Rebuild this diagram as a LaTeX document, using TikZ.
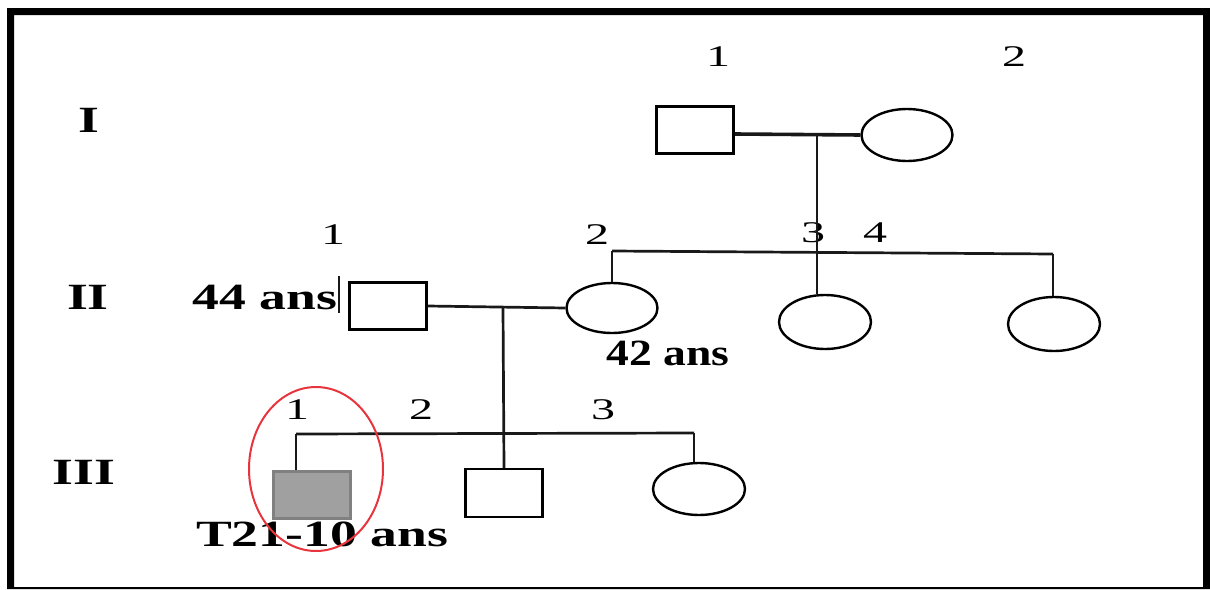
\documentclass[tikz,border=0pt]{standalone}
\usepackage{fontspec}
\setmainfont{Liberation Serif}[FakeStretch=1.45]
\newfontfamily\numfont{Liberation Serif}[FakeStretch=1.6]
\usetikzlibrary{shapes.geometric,calc}

\definecolor{affgray}{HTML}{A0A0A0}
\definecolor{markred}{HTML}{E8343C}

\begin{document}
\begin{tikzpicture}[
  x=1pt, y=-1pt,
  male/.style={draw, line width=2.4pt, minimum width=77pt, minimum height=47pt, inner sep=0pt},
  female/.style={draw, ellipse, line width=2.4pt, minimum width=91pt, minimum height=52pt, inner sep=0pt},
  affected/.style={male, fill=affgray, draw=gray},
  gen/.style={font=\bfseries\fontsize{37}{40}\selectfont, inner sep=0pt},
  num/.style={font=\numfont\fontsize{30}{36}\selectfont, inner sep=0pt},
  age/.style={font=\bfseries\fontsize{37}{40}\selectfont, inner sep=0pt},
  link/.style={line width=2.7pt, draw=black!90}
]
\useasboundingbox (0,0) rectangle (1210,589);
% frame
\fill[black, even odd rule] (7,8) rectangle (1210,589) (14,15) rectangle (1203,587);

% generations
\node[gen] (genI) at (89,120) {I};
\node[gen] (genII) at (88,297) {II};
\node[gen] (genIII) at (84,472) {III};

% generation I
\node[male] (I1) at (695,130) {};
\node[female] (I2) at (907,135) {};
\node[num] (nI1) at (718,57) {1};
\node[num] (nI2) at (1014,57) {2};

% generation II
\node[male] (II1) at (388,306) {};
\node[female, minimum height=50pt] (II2) at (612,308) {};
\node[female, minimum width=92pt, minimum height=54pt] (II3) at (825,322) {};
\node[female, minimum width=92pt, minimum height=54pt] (II4) at (1054,324) {};
\node[num] (nII1) at (333,235) {1};
\node[num] (nII2) at (597,235) {2};
\node[num] (nII3) at (813,233) {3};
\node[num] (nII4) at (875,233) {4};
\node[age] (ageII1) at (265,297) {44 ans};
\node[age, xscale=0.85, transform shape] (ageII2) at (668,353) {42 ans};

% generation III
\node[affected] (III1) at (312,495) {};
\node[male, minimum height=48pt] (III2) at (504,493) {};
\node[female, minimum width=92pt] (III3) at (699,489) {};
\node[num] (nIII1) at (297,410) {1};
\node[num] (nIII2) at (421,410) {2};
\node[num] (nIII3) at (603,410) {3};
\node[age] (ageIII1) at (322,534) {T21-10 ans};

% couples and descent
\coordinate (mateI) at (817,135);
\coordinate (sibIIl) at (612,251);
\coordinate (sibIIr) at (1053,254);
\coordinate (mateII) at (503,308);
\coordinate (sibIIIl) at (296,434);
\coordinate (sibIIIr) at (694,433);

\draw[link, line width=3.6pt] ([yshift=-4pt]I1.east) -- (I2.west);
\draw[link] (mateI) -- (mateI |- II3.north);
\draw[link] (sibIIl) -- (sibIIr);
\draw[link] (sibIIl) -- (II2.north);
\draw[link] (sibIIr) -- (sibIIr |- II4.north);

\draw[link] (II1.east) -- (II2.west);
\draw[link] (mateII) -- (III2.north);
\draw[link] (sibIIIl) -- (sibIIIr);
\draw[link] (sibIIIl) -- (sibIIIl |- III1.north);
\draw[link] (sibIIIr) -- (sibIIIr |- III3.north);

% tick beside 44 ans
\draw[link, line width=1.8pt] ($(II1.west)+(-9,-30)$) -- ++(0,37);

% index case
\node[draw=markred, line width=2pt, ellipse, minimum width=134pt, minimum height=164pt, inner sep=0pt] (mark) at (316,469) {};
\end{tikzpicture}
\end{document}
